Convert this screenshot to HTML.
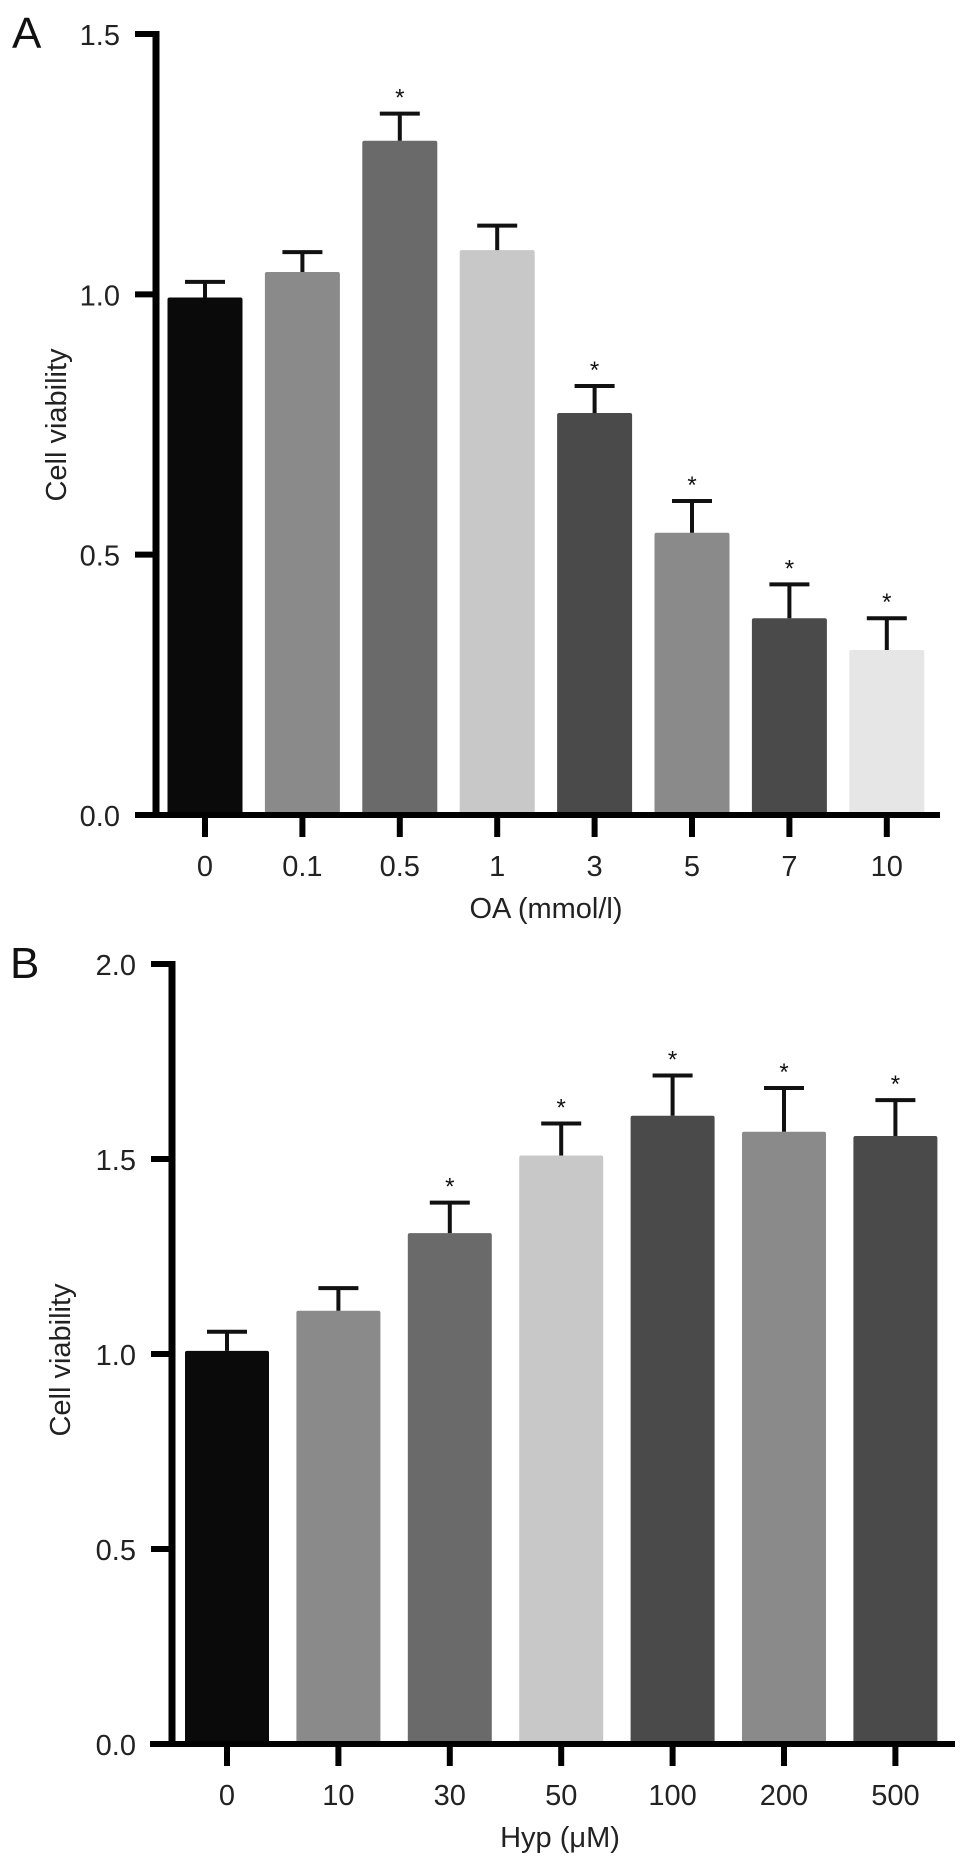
<!DOCTYPE html>
<html><head><meta charset="utf-8"><style>
html,body{margin:0;padding:0;background:#fff;}
svg{display:block;font-family:"Liberation Sans",Arial,sans-serif;}
</style></head><body>
<svg id="fig" width="969" height="1862" viewBox="0 0 969 1862">
<text x="12" y="48" font-size="44" fill="#111">A</text>
<text x="10" y="978" font-size="44" fill="#111">B</text>
</svg>
<script>
const catsA = ["0","0.1","0.5","1","3","5","7","10"];
const valsA = [0.994,1.043,1.295,1.085,0.772,0.542,0.378,0.317];
const errA = [1.024,1.081,1.347,1.132,0.824,0.603,0.443,0.378];
const sigA = [false,false,true,false,true,true,true,true];
const colA = ["#0a0a0a","#8a8a8a","#6a6a6a","#c8c8c8","#4a4a4a","#8a8a8a","#4a4a4a","#e6e6e6"];
const ticksA = [0,0.5,1.0,1.5];

const catsB = ["0","10","30","50","100","200","500"];
const valsB = [1.008,1.111,1.310,1.509,1.611,1.570,1.559];
const errB = [1.057,1.169,1.388,1.591,1.714,1.682,1.651];
const sigB = [false,false,true,true,true,true,true];
const colB = ["#0a0a0a","#8a8a8a","#6a6a6a","#c8c8c8","#4a4a4a","#8a8a8a","#4a4a4a"];
const ticksB = [0,0.5,1.0,1.5,2.0];

const NS = "http://www.w3.org/2000/svg";
const svg = document.getElementById("fig");
function mk(tag, attrs, parent){
  const e = document.createElementNS(NS, tag);
  for (const k in attrs) e.setAttribute(k, attrs[k]);
  (parent||svg).appendChild(e);
  return e;
}

function panel(p){
  const g = mk("g", {});
  
  
  const y = v => p.y0 - (v - 0) / (p.ymax) * (p.y0 - p.ytop);
  const x = i => p.x0 + i * p.step;
  // bars
  p.cats.forEach((c, i) => {
    const cx = x(i);
    const r = mk("rect", {x: cx - p.bw/2, y: y(p.vals[i]), width: p.bw, height: p.y0 - y(p.vals[i]), fill: p.cols[i], rx: 2}, g);
    
    
    const eb = mk("path", {d: `M${cx} ${y(p.vals[i])} V${y(p.errs[i])} M${cx-20} ${y(p.errs[i])} H${cx+20}`, stroke: "#111", "stroke-width": 4, fill: "none"}, g);
    
    
    if (p.sig[i]) {
      const s = mk("text", {x: cx, y: y(p.errs[i]) - 8, "font-size": 24, "text-anchor": "middle", fill: "#111"}, g);
      s.textContent = "*";
      
      
    }
    const t = mk("line", {x1: cx, x2: cx, y1: p.y0, y2: p.y0 + 22, stroke: "#000", "stroke-width": 6}, g);
    
    
    const l = mk("text", {x: cx, y: p.y0 + 61, "font-size": 29, "text-anchor": "middle", fill: "#222"}, g);
    l.textContent = c;
    
    
  });
  // axes
  const ya = mk("line", {x1: p.ax, x2: p.ax, y1: p.ytop - 3, y2: p.y0 + 3, stroke: "#000", "stroke-width": 7}, g);
  
  
  const xa = mk("line", {x1: p.xl, x2: p.xr, y1: p.y0, y2: p.y0, stroke: "#000", "stroke-width": 6}, g);
  
  
  p.ticks.forEach(v => {
    const t = mk("line", {x1: p.ax - 21, x2: p.ax, y1: y(v), y2: y(v), stroke: "#000", "stroke-width": 6}, g);
    
    
    const l = mk("text", {x: p.ax - 36, y: y(v) + 11, "font-size": 29, "text-anchor": "end", fill: "#222"}, g);
    l.textContent = v.toFixed(1);
    
    
  });
  const yt = mk("text", {x: 0, y: 0, "font-size": 29, "text-anchor": "middle", fill: "#222", transform: `translate(${p.ylx},${p.yly}) rotate(-90)`}, g);
  yt.textContent = "Cell viability";
  
  
  const xt = mk("text", {x: p.xtx, y: p.y0 + 103, "font-size": 29, "text-anchor": "middle", fill: "#222"}, g);
  xt.textContent = p.xtitle;
  
  
}

panel({name:"chart-a", cats:catsA, vals:valsA, errs:errA, sig:sigA, cols:colA, ticks:ticksA,
  y0:815, ytop:34, ymax:1.5, x0:205, step:97.4, bw:75, ax:156, xl:135, xr:940,
  ylx:66, yly:425, xtx:546, xtitle:"OA (mmol/l)"});
panel({name:"chart-b", cats:catsB, vals:valsB, errs:errB, sig:sigB, cols:colB, ticks:ticksB,
  y0:1744, ytop:964, ymax:2.0, x0:227, step:111.4, bw:84, ax:172, xl:150, xr:955,
  ylx:70, yly:1360, xtx:560, xtitle:"Hyp (\u03bcM)"});
</script>
</body></html>
